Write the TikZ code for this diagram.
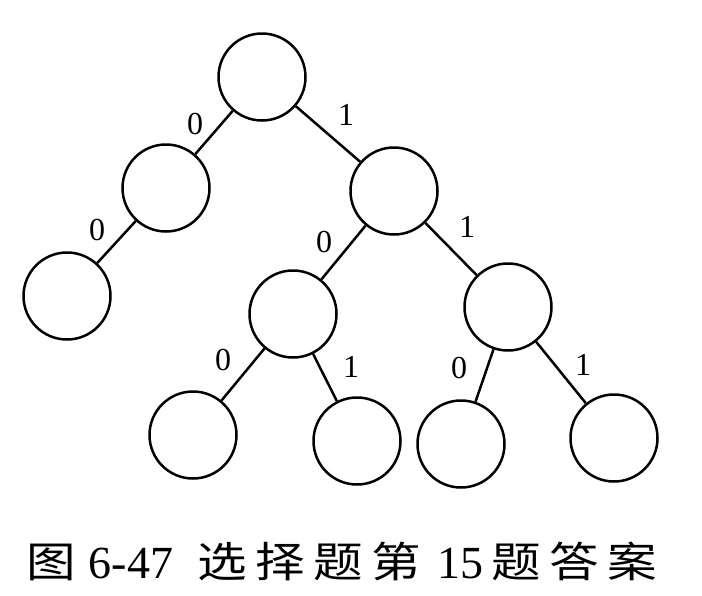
\documentclass[tikz,border=0pt]{standalone}
\usepackage{fontspec}
\setmainfont{Liberation Serif}
\newfontfamily\numfont{Liberation Serif}
\newfontfamily\cjk{Noto Sans CJK SC}
\newcommand{\cz}[1]{\makebox[58pt]{\scalebox{1.18}[1]{\cjk #1}}}
\begin{document}
\begin{tikzpicture}[x=1pt,y=-1pt,
  nd/.style={circle,draw,line width=2.5pt,minimum size=87pt,inner sep=0pt},
  ed/.style={line width=2.5pt},
  lb/.style={font=\numfont\fontsize{32}{32}\selectfont,inner sep=0pt},
  captext/.style={font=\numfont\fontsize{46}{46}\selectfont,inner sep=0pt,anchor=base},
  capcjk/.style={font=\fontsize{42}{42}\selectfont,inner sep=0pt,anchor=base}]
\useasboundingbox (0,0) rectangle (702,595);
\fill[white] (0,0) rectangle (702,595);
% nodes
\node[nd] (r)   at (262,77)  {};
\node[nd] (a)   at (166,188) {};
\node[nd] (b)   at (394,191) {};
\node[nd] (aa)  at (67,296)  {};
\node[nd] (ba)  at (293,314) {};
\node[nd] (bb)  at (508,307) {};
\node[nd] (baa) at (193,435) {};
\node[nd] (bab) at (357,441) {};
\node[nd] (bba) at (461,444) {};
\node[nd] (bbb) at (614,438) {};
% edges
\draw[ed] (r) -- (a);
\draw[ed] (r) -- (b);
\draw[ed] (a) -- (aa);
\draw[ed] (b) -- (ba);
\draw[ed] (b) -- (bb);
\draw[ed] (ba) -- (baa);
\draw[ed] (ba) -- (bab);
\draw[ed] (bb) -- (bba);
\draw[ed] (bb) -- (bbb);
% labels
\node[lb] (l1) at (195,124) {0};
\node[lb] (l2) at (346,115) {1};
\node[lb] (l3) at (97,230)  {0};
\node[lb] (l4) at (324,242) {0};
\node[lb] (l5) at (467,227) {1};
\node[lb] (l6) at (223,360) {0};
\node[lb] (l7) at (351,367) {1};
\node[lb] (l8) at (459,368) {0};
\node[lb] (l9) at (583,365) {1};
% caption
\node[capcjk] (c1) at (51,577)  {\cz{图}};
\node[captext] (c2) at (131,578) {6-47};
\node[capcjk] (c3) at (309,577) {\cz{选}\cz{择}\cz{题}\cz{第}};
\node[captext] (c4) at (460,578) {15};
\node[capcjk] (c5) at (574,577) {\cz{题}\cz{答}\cz{案}};
\end{tikzpicture}
\end{document}
